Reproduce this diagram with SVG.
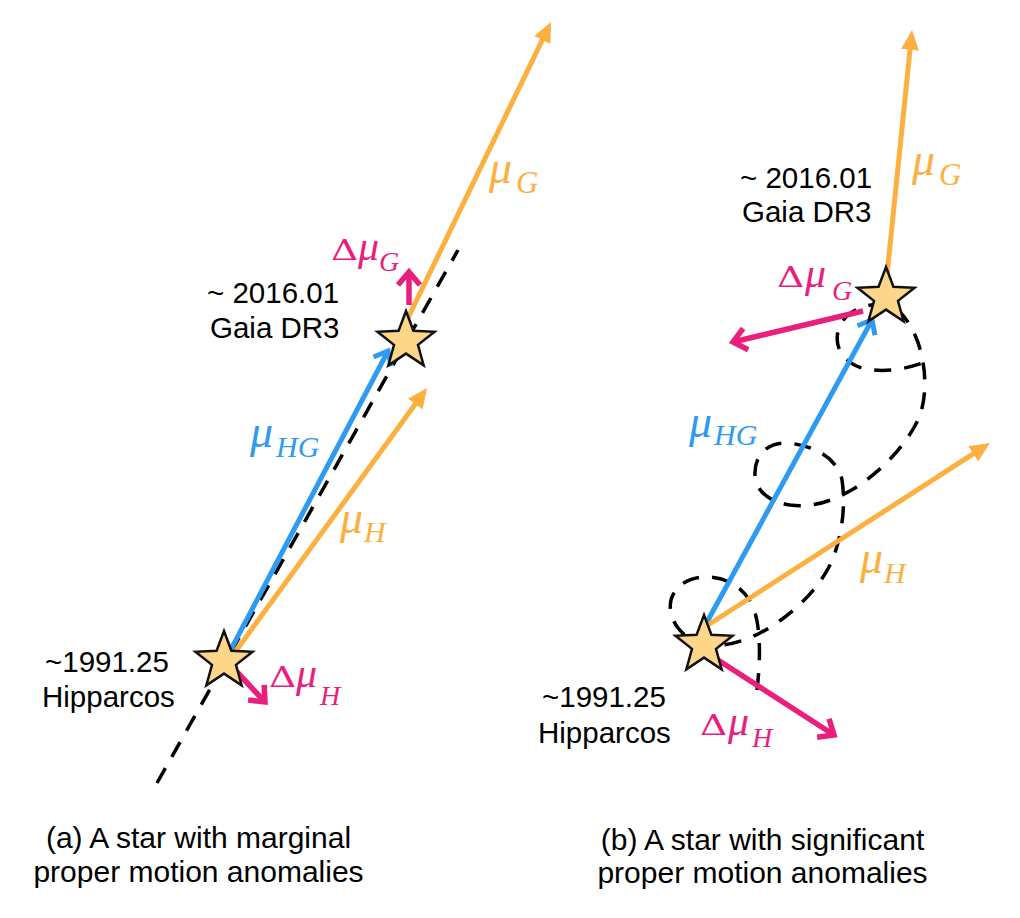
<svg xmlns="http://www.w3.org/2000/svg" width="1020" height="918" viewBox="0 0 1020 918">
<style>
.lbl{font-family:"Liberation Sans",Arial,sans-serif;font-size:29.5px;fill:#000}
.cap{font-family:"Liberation Sans",Arial,sans-serif;font-size:30px;fill:#000;text-anchor:middle}
.math{font-family:"Liberation Serif","Times New Roman",serif;font-style:italic}
.up{font-style:normal;font-family:"DejaVu Serif","Liberation Serif",serif;font-size:28px}
.or{fill:#FBB040}.bl{fill:#2F9BF0}.pk{fill:#EA1E7C}
.star{fill:#FDD68A;stroke:#111;stroke-width:2.5;stroke-linejoin:miter}
.dash{fill:none;stroke:#000;stroke-width:3.5;stroke-dasharray:17 13}
.aO{stroke:#FBB040;stroke-width:5;fill:none}
.aB{stroke:#2F9BF0;stroke-width:5;fill:none}
.aP{stroke:#EA1E7C;stroke-width:5.5;fill:none}
</style>
<defs>
<path id="star" d="M0,-30 L7.41,-10.19 L28.53,-9.27 L11.98,3.89 L17.63,24.27 L0,12.6 L-17.63,24.27 L-11.98,3.89 L-28.53,-9.27 L-7.41,-10.19 Z"/>
<marker id="triO" markerUnits="userSpaceOnUse" viewBox="0 0 20 20" markerWidth="20" markerHeight="20" refX="6" refY="10" orient="auto"><path d="M0,1 L20,10 L0,19 Z" fill="#FBB040"/></marker>
<marker id="chevB" markerUnits="userSpaceOnUse" viewBox="-20 -15 25 30" markerWidth="25" markerHeight="30" refX="0" refY="0" orient="auto" overflow="visible"><path d="M-12,-10 L0,0 L-12,10" fill="none" stroke="#2F9BF0" stroke-width="5"/></marker>
<marker id="chevP" markerUnits="userSpaceOnUse" viewBox="-20 -15 25 30" markerWidth="25" markerHeight="30" refX="0" refY="0" orient="auto" overflow="visible"><path d="M-13,-11 L0,0 L-13,11" fill="none" stroke="#EA1E7C" stroke-width="5.5"/></marker>
</defs>
<rect width="1020" height="918" fill="#fff"/>

<g id="connectors">
  <!-- panel (a) -->
  <line class="dash" x1="157" y1="783" x2="458" y2="250"/>
  <line class="aB" x1="228" y1="655" x2="388" y2="351" marker-end="url(#chevB)"/>
  <line class="aO" x1="233" y1="655" x2="418.8" y2="399.3" marker-end="url(#triO)"/>
  <line class="aO" x1="408" y1="318" x2="544.9" y2="34.6" marker-end="url(#triO)"/>
  <line class="aP" x1="409" y1="305" x2="409" y2="272" marker-end="url(#chevP)"/>
  <line class="aP" x1="237" y1="672" x2="265" y2="702" marker-end="url(#chevP)"/>
  <!-- panel (b) -->
  <path class="dash" d="M757,690 C760,665 762,625 752,605 C744,588 728,578 710,577 C690,576 675,585 671,600 C667,618 680,638 704,645 C722,648 745,641 760,633 C785,620 815,595 830,565 C842,540 846,505 842,480 C838,458 812,444 785,443 C765,443 754,458 755,475 C756,492 770,502 790,505 C815,508 835,500 855,488 C880,472 905,447 918,420 C928,398 927,362 915,335 C906,316 895,303 880,304 C862,305 845,312 839,328 C833,345 842,362 862,368 C885,374 910,368 928,361"/>
  <line class="aB" x1="707" y1="622" x2="872" y2="320" marker-end="url(#chevB)"/>
  <line class="aO" x1="708" y1="625" x2="978.2" y2="450.6" marker-end="url(#triO)"/>
  <line class="aO" x1="887" y1="275" x2="910.6" y2="43.9" marker-end="url(#triO)"/>
  <line class="aP" x1="863" y1="311" x2="733" y2="342" marker-end="url(#chevP)"/>
  <line class="aP" x1="718" y1="660" x2="834" y2="735" marker-end="url(#chevP)"/>
</g>

<g id="star-a-gaia">
  <use href="#star" class="star" x="406" y="341"/>
  <text class="lbl" x="207" y="303">~ 2016.01</text>
  <text class="lbl" x="210" y="338">Gaia DR3</text>
</g>
<g id="star-a-hipparcos">
  <use href="#star" class="star" x="224" y="661"/>
  <text class="lbl" x="45" y="672">~1991.25</text>
  <text class="lbl" x="42" y="707">Hipparcos</text>
</g>
<g id="star-b-gaia">
  <use href="#star" class="star" x="886" y="297"/>
  <text class="lbl" x="740" y="188">~ 2016.01</text>
  <text class="lbl" x="742" y="222">Gaia DR3</text>
</g>
<g id="star-b-hipparcos">
  <use href="#star" class="star" x="704" y="645"/>
  <text class="lbl" x="542" y="707">~1991.25</text>
  <text class="lbl" x="538" y="743">Hipparcos</text>
</g>

<g id="labels">
  <!-- panel (a) -->
  <text class="math or"><tspan x="489" y="183" font-size="46">μ</tspan><tspan x="516" y="193" font-size="31">G</tspan></text>
  <text class="math bl"><tspan x="250" y="447" font-size="46">μ</tspan><tspan x="276" y="457" font-size="30">HG</tspan></text>
  <text class="math or"><tspan x="340" y="533" font-size="46">μ</tspan><tspan x="364" y="542" font-size="30">H</tspan></text>
  <text class="up pk" transform="translate(331,260) scale(1.35,1)">Δ</text>
  <text class="math pk"><tspan x="358" y="260" font-size="42">μ</tspan><tspan x="379" y="271" font-size="28">G</tspan></text>
  <text class="up pk" transform="translate(269,687) scale(1.35,1)">Δ</text>
  <text class="math pk"><tspan x="296" y="687" font-size="42">μ</tspan><tspan x="320" y="705" font-size="28">H</tspan></text>
  <!-- panel (b) -->
  <text class="math or"><tspan x="912" y="175" font-size="46">μ</tspan><tspan x="939" y="185" font-size="31">G</tspan></text>
  <text class="math bl"><tspan x="689" y="437" font-size="46">μ</tspan><tspan x="714" y="445" font-size="30">HG</tspan></text>
  <text class="math or"><tspan x="860" y="573" font-size="46">μ</tspan><tspan x="884" y="583" font-size="30">H</tspan></text>
  <text class="up pk" transform="translate(777,287) scale(1.35,1)">Δ</text>
  <text class="math pk"><tspan x="805" y="287" font-size="42">μ</tspan><tspan x="832" y="300" font-size="28">G</tspan></text>
  <text class="up pk" transform="translate(700,735) scale(1.35,1)">Δ</text>
  <text class="math pk"><tspan x="728" y="735" font-size="42">μ</tspan><tspan x="752" y="747" font-size="28">H</tspan></text>
</g>

<g id="captions">
  <text class="cap" x="198.5" y="848">(a) A star with marginal</text>
  <text class="cap" x="198.5" y="882">proper motion anomalies</text>
  <text class="cap" x="762.5" y="850">(b) A star with significant</text>
  <text class="cap" x="762.5" y="883">proper motion anomalies</text>
</g>
</svg>
